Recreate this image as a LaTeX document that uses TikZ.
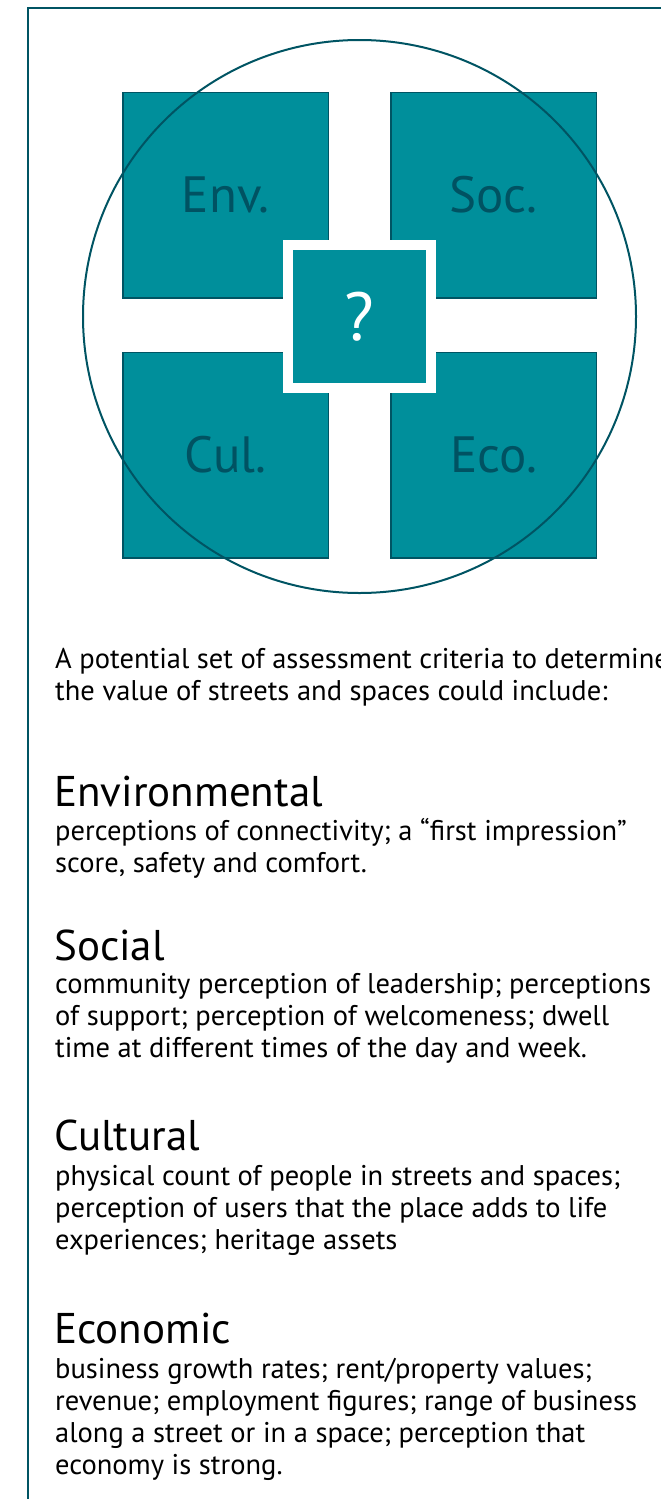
\documentclass[tikz,border=0pt]{standalone}
\usepackage{fontspec}
\setmainfont{PT Sans}
\definecolor{tealfill}{RGB}{0,143,155}
\definecolor{tealdark}{RGB}{0,84,99}
\definecolor{tealtext}{RGB}{0,82,98}
\begin{document}
\begin{tikzpicture}[
    x=1pt, y=-1pt,
    % Style for the four value squares
    pillar/.style={draw=tealdark, line width=1.5pt, fill=tealfill, minimum size=205.5pt,
        inner sep=0pt, text=tealtext, font=\fontsize{51}{51}\selectfont},
    % Style for the centre square with its white rim
    hub/.style={draw=white, line width=10pt, fill=tealfill, minimum size=143pt,
        inner sep=0pt, text=white, font=\fontsize{68}{68}\selectfont},
    % Styles for the texts below (body is anchored at its last line)
    heading/.style={anchor=base west, inner sep=0pt, font=\fontsize{43}{43}\selectfont},
    body/.style={anchor=base west, inner sep=0pt, align=left, font=\fontsize{28.5}{32}\selectfont}
]
    \useasboundingbox (0,0) rectangle (661,1499);

    % --- 1. Frame ---
    \draw[tealdark, line width=2pt] (661,8) -- (28,8) -- (28,1499);

    % --- 2. Squares ---
    \node[pillar] (env) at (225.5,195) {Env.};
    \node[pillar] (soc) at (493.5,195) {Soc.};
    \node[pillar] (cul) at (225.5,455) {Cul.};
    \node[pillar] (eco) at (493.5,455) {Eco.};

    \node[hub] (q) at (359.5,316.5) {?};

    % --- 3. Circle ---
    \node[circle, draw=tealdark, line width=2pt, minimum size=553pt, inner sep=0pt] (ring) at (359.5,316.5) {};

    % --- 4. Text ---
    \node[body] (intro) at (55,700) {A potential set of assessment criteria to determine\\the value of streets and spaces could include:};

    \node[heading] (envh) at (54,806) {Environmental};
    \node[body] (envt) at (55,872) {perceptions of connectivity; a “first impression”\\score, safety and comfort.};

    \node[heading] (soch) at (54,960) {Social};
    \node[body] (soct) at (55,1057) {community perception of leadership; perceptions\\of support; perception of welcomeness; dwell\\time at different times of the day and week.};

    \node[heading] (culh) at (54,1150) {Cultural};
    \node[body] (cult) at (55,1249) {physical count of people in streets and spaces;\\perception of users that the place adds to life\\experiences; heritage assets};

    \node[heading] (ecoh) at (54,1343) {Economic};
    \node[body] (ecot) at (55,1474) {business growth rates; rent/property values;\\revenue; employment figures; range of business\\along a street or in a space; perception that\\economy is strong.};
\end{tikzpicture}
\end{document}
